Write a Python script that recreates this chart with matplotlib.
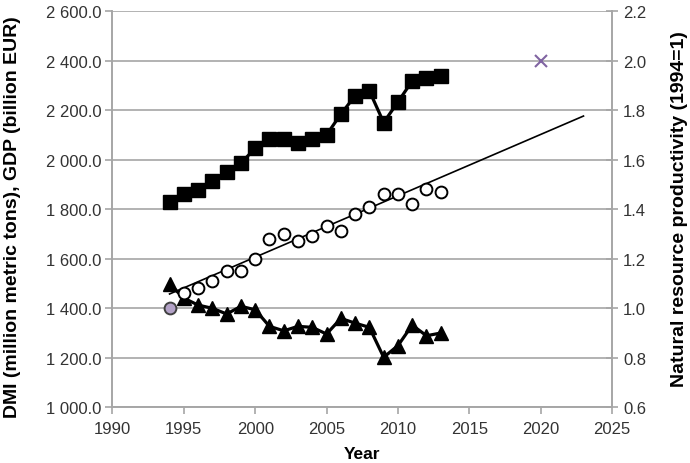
import numpy as np
import matplotlib
matplotlib.use("Agg")
import matplotlib.pyplot as plt
from matplotlib.ticker import FuncFormatter

plt.rcParams['font.family'] = ['Liberation Sans', 'DejaVu Sans']

# Data
years = list(range(1994, 2014))
gdp = [1827, 1863, 1878, 1914, 1948, 1986, 2046, 2083, 2083, 2067,
       2083, 2100, 2184, 2258, 2278, 2150, 2233, 2318, 2328, 2339]
dmi = [1497, 1440, 1412, 1399, 1376, 1407, 1393, 1326, 1308, 1326,
       1322, 1295, 1358, 1339, 1322, 1201, 1248, 1331, 1288, 1299]
productivity = [1.00, 1.06, 1.08, 1.11, 1.15, 1.15, 1.20, 1.28, 1.30, 1.27,
                1.29, 1.33, 1.31, 1.38, 1.41, 1.46, 1.46, 1.42, 1.48, 1.47]
trend_end_year = 2023
target_year = [2020]
target_value = [2.0]

GRAY = '#a6a6a6'
PURPLE = '#8064a2'

fig = plt.figure(figsize=(6.9, 4.64), dpi=100)
ax = fig.add_axes([0.163, 0.1207, 0.724, 0.853])
ax2 = ax.twinx()

ax.plot(years, gdp, color='black', lw=2.3, marker='s', ms=9.5, zorder=3)
ax.plot(years, dmi, color='black', lw=2.3, marker='^', ms=9.5, zorder=3)

# linear trend of productivity, extrapolated
coef = np.polyfit(years, productivity, 1)
tx = np.array([years[0], trend_end_year])
ax2.plot(tx, np.polyval(coef, tx) + 0.012, color='black', lw=1.2, zorder=2)
ax2.plot(years[1:], productivity[1:], ls='none', marker='o', ms=8.5,
         mfc='white', mec='black', mew=1.4, zorder=3)
ax2.plot(years[:1], productivity[:1], ls='none', marker='o', ms=8.5,
         mfc='#b3a2c7', mec='#404040', mew=1.4, zorder=4)
ax2.plot(target_year, target_value, ls='none', marker='x', ms=9,
         mec=PURPLE, mew=1.5, zorder=4)

ax.set_xlim(1990, 2025)
ax.set_ylim(1000, 2600)
ax2.set_ylim(0.6, 2.2)
ax.set_xticks(range(1990, 2026, 5))
ax.set_yticks(range(1000, 2601, 200))
ax2.set_yticks(np.arange(0.6, 2.21, 0.2))
ax.yaxis.set_major_formatter(FuncFormatter(lambda v, p: f"{v:,.1f}".replace(",", " ")))
ax2.yaxis.set_major_formatter(FuncFormatter(lambda v, p: f"{v:.1f}"))

ax.grid(axis='y', color=GRAY, lw=1.2)
ax.set_axisbelow(True)
for a in (ax, ax2):
    a.spines['top'].set_visible(False)
    for s in ('left', 'right', 'bottom'):
        a.spines[s].set_color(GRAY)
        a.spines[s].set_linewidth(1.2)
    a.tick_params(colors=GRAY, labelcolor='#333333', labelsize=12, width=1.2, length=5)
ax2.tick_params(axis='y', direction='inout', length=8, pad=4)
ax.tick_params(axis='y', direction='out', length=5, pad=3)
ax.tick_params(axis='x', pad=5)

ax.set_xlabel('Year', fontsize=12.5, fontweight='bold')
ax.set_ylabel('DMI (million metric tons), GDP (billion EUR)', fontsize=14,
              fontweight='bold')
ax2.set_ylabel('Natural resource productivity (1994=1)', fontsize=14,
               fontweight='bold')
ax.xaxis.set_label_coords(0.5, -0.098)
ax.yaxis.set_label_coords(-0.184, 0.482)
ax2.yaxis.set_label_coords(1.118, 0.503)

fig.savefig('out.png', dpi=100)
